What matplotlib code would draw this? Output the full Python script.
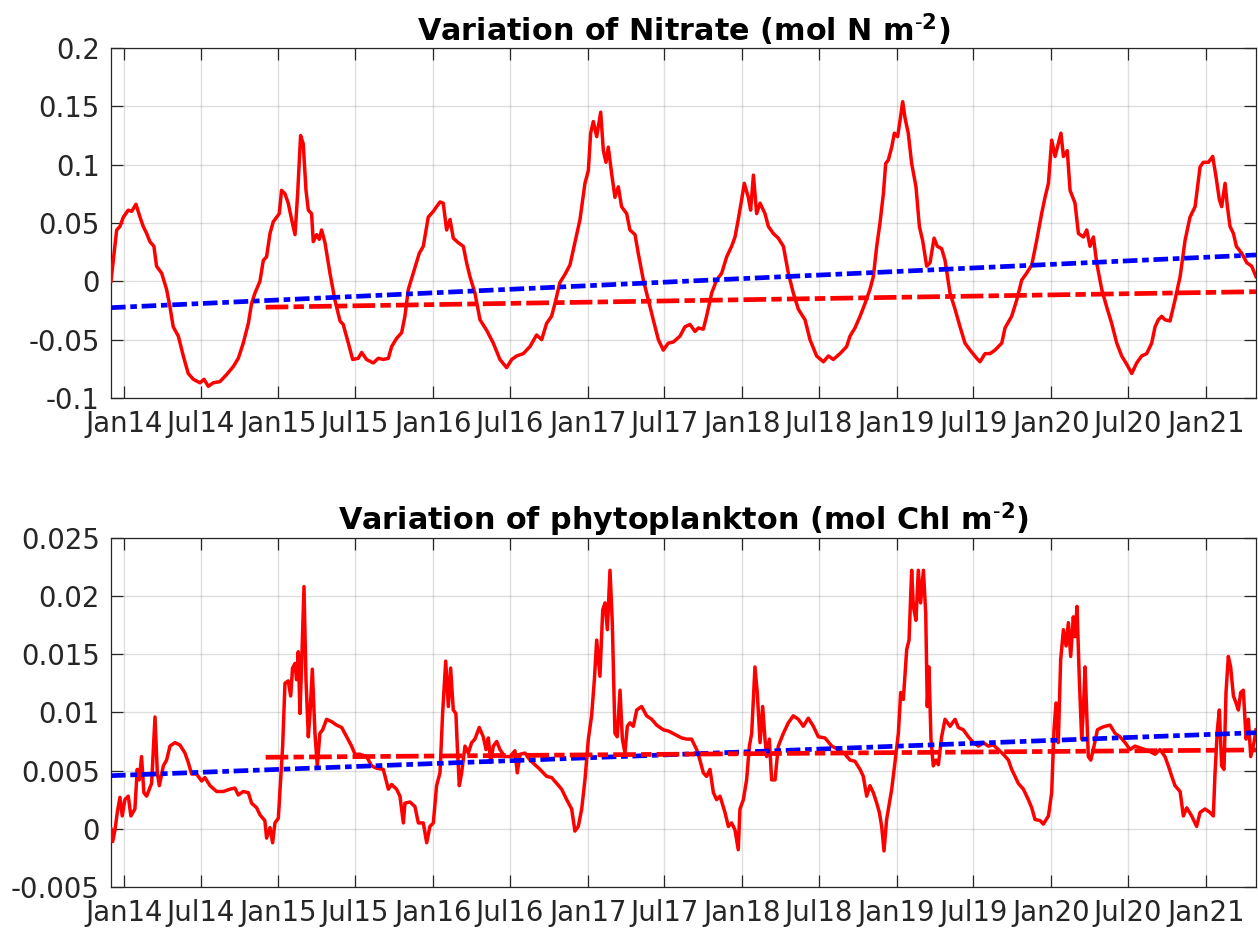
import numpy as np
import pandas as pd
import matplotlib
matplotlib.use('Agg')
import matplotlib.pyplot as plt
import matplotlib.dates as mdates
from matplotlib.ticker import FuncFormatter

# time axis in decimal years
nit_t = [2013.916, 2013.953, 2013.974, 2013.996, 2014.028, 2014.050, 2014.078, 2014.104, 2014.125, 2014.147,
         2014.168, 2014.194, 2014.211, 2014.244, 2014.276, 2014.298, 2014.319, 2014.352, 2014.384, 2014.416,
         2014.449, 2014.492, 2014.518, 2014.546, 2014.578, 2014.621, 2014.664, 2014.708, 2014.740, 2014.772,
         2014.805, 2014.826, 2014.848, 2014.880, 2014.902, 2014.923, 2014.945, 2014.966, 2014.988, 2015.005,
         2015.020, 2015.042, 2015.063, 2015.085, 2015.107, 2015.124, 2015.143, 2015.160, 2015.178, 2015.193,
         2015.214, 2015.225, 2015.247, 2015.264, 2015.279, 2015.301, 2015.333, 2015.365, 2015.398, 2015.419,
         2015.452, 2015.480, 2015.516, 2015.538, 2015.570, 2015.613, 2015.646, 2015.678, 2015.711, 2015.732,
         2015.764, 2015.797, 2015.818, 2015.840, 2015.872, 2015.911,
         2015.937, 2015.969, 2016.002, 2016.023, 2016.045, 2016.066, 2016.088, 2016.110, 2016.131, 2016.164,
         2016.196, 2016.217, 2016.239, 2016.271, 2016.304, 2016.347, 2016.390, 2016.433, 2016.476, 2016.509,
         2016.541, 2016.584, 2016.627, 2016.670, 2016.703, 2016.735, 2016.767, 2016.789, 2016.821, 2016.854,
         2016.886, 2016.918, 2016.951, 2016.983, 2017.005, 2017.020, 2017.037, 2017.059, 2017.085, 2017.102,
         2017.119, 2017.134, 2017.156, 2017.177, 2017.199, 2017.220, 2017.253, 2017.274, 2017.307, 2017.328,
         2017.361, 2017.393, 2017.425, 2017.458, 2017.490, 2017.522, 2017.555, 2017.598, 2017.630, 2017.663,
         2017.695, 2017.717, 2017.749, 2017.770, 2017.803, 2017.835, 2017.868, 2017.900, 2017.932, 2017.954,
         2017.975, 2017.997, 2018.014, 2018.040, 2018.055, 2018.073, 2018.094, 2018.116, 2018.148, 2018.170,
         2018.202, 2018.234, 2018.267, 2018.299, 2018.331, 2018.364, 2018.407, 2018.439, 2018.482, 2018.526,
         2018.558, 2018.590, 2018.633, 2018.676, 2018.698,
         2018.730, 2018.763, 2018.795, 2018.827, 2018.849, 2018.871, 2018.892, 2018.914, 2018.929, 2018.946,
         2018.968, 2018.985, 2019.006, 2019.022, 2019.039, 2019.054, 2019.075, 2019.097, 2019.125, 2019.147,
         2019.168, 2019.194, 2019.216, 2019.242, 2019.263, 2019.291, 2019.313, 2019.345, 2019.378, 2019.410,
         2019.442, 2019.475, 2019.518, 2019.539, 2019.572, 2019.604, 2019.636, 2019.680, 2019.701, 2019.744,
         2019.777, 2019.809, 2019.841, 2019.874, 2019.906, 2019.938, 2019.960, 2019.982, 2020.003, 2020.025,
         2020.046, 2020.063, 2020.079, 2020.104, 2020.122, 2020.154, 2020.176, 2020.208, 2020.230, 2020.251,
         2020.273, 2020.294, 2020.327, 2020.359, 2020.391, 2020.424, 2020.456, 2020.488, 2020.521, 2020.553,
         2020.585, 2020.618, 2020.650, 2020.672, 2020.693, 2020.715, 2020.736, 2020.769, 2020.801, 2020.834,
         2020.866, 2020.898, 2020.931, 2020.963, 2020.984, 2021.017, 2021.045, 2021.066, 2021.088, 2021.103,
         2021.125, 2021.140, 2021.157, 2021.179, 2021.198, 2021.233, 2021.265, 2021.297, 2021.325]
nit_v = [0.000, 0.044, 0.047, 0.055, 0.061, 0.060, 0.066, 0.055, 0.047, 0.041,
         0.034, 0.030, 0.013, 0.007, -0.007, -0.022, -0.039, -0.047, -0.064, -0.079,
         -0.084, -0.087, -0.084, -0.090, -0.087, -0.086, -0.080, -0.073, -0.066, -0.053,
         -0.036, -0.019, -0.010, 0.000, 0.018, 0.021, 0.041, 0.051, 0.055, 0.058,
         0.078, 0.075, 0.067, 0.053, 0.040, 0.075, 0.125, 0.118, 0.078, 0.061,
         0.058, 0.034, 0.040, 0.036, 0.044, 0.033, 0.007, -0.016, -0.034, -0.037,
         -0.053, -0.067, -0.066, -0.061, -0.067, -0.070, -0.066, -0.067, -0.066, -0.056,
         -0.049, -0.044, -0.030, -0.007, 0.007, 0.024,
         0.030, 0.055, 0.060, 0.064, 0.068, 0.067, 0.044, 0.053, 0.037, 0.033,
         0.030, 0.016, 0.004, -0.010, -0.033, -0.042, -0.053, -0.067, -0.074, -0.067,
         -0.064, -0.062, -0.056, -0.046, -0.050, -0.036, -0.030, -0.019, -0.001, 0.006,
         0.014, 0.033, 0.053, 0.084, 0.095, 0.127, 0.137, 0.124, 0.145, 0.112,
         0.102, 0.115, 0.092, 0.072, 0.081, 0.064, 0.058, 0.044, 0.040, 0.024,
         0.001, -0.016, -0.033, -0.050, -0.059, -0.053, -0.052, -0.047, -0.039, -0.037,
         -0.043, -0.040, -0.041, -0.030, -0.010, 0.001, 0.007, 0.021, 0.030, 0.038,
         0.053, 0.070, 0.084, 0.072, 0.061, 0.091, 0.058, 0.067, 0.058, 0.047,
         0.041, 0.037, 0.030, 0.007, -0.010, -0.024, -0.033, -0.050, -0.064, -0.069,
         -0.064, -0.067, -0.062, -0.056, -0.047,
         -0.040, -0.030, -0.019, -0.007, 0.004, 0.030, 0.050, 0.075, 0.101, 0.104,
         0.115, 0.127, 0.124, 0.138, 0.154, 0.140, 0.127, 0.101, 0.081, 0.047,
         0.035, 0.013, 0.016, 0.037, 0.030, 0.028, 0.018, -0.010, -0.024, -0.039,
         -0.053, -0.059, -0.066, -0.069, -0.062, -0.062, -0.059, -0.053, -0.040, -0.030,
         -0.016, 0.001, 0.007, 0.014, 0.035, 0.058, 0.072, 0.084, 0.121, 0.107,
         0.118, 0.127, 0.107, 0.112, 0.078, 0.067, 0.041, 0.038, 0.044, 0.030,
         0.038, 0.016, -0.007, -0.022, -0.036, -0.053, -0.064, -0.071, -0.079, -0.070,
         -0.064, -0.062, -0.053, -0.039, -0.033, -0.030, -0.033, -0.034, -0.016, 0.004,
         0.035, 0.055, 0.064, 0.098, 0.102, 0.102, 0.107, 0.090, 0.070, 0.064,
         0.084, 0.064, 0.047, 0.041, 0.030, 0.024, 0.016, 0.013, 0.004]

phy_t = [2013.916, 2013.927, 2013.942, 2013.957, 2013.974, 2013.989, 2014.006, 2014.028, 2014.045, 2014.071,
         2014.086, 2014.099, 2014.114, 2014.129, 2014.147, 2014.179, 2014.201, 2014.216, 2014.229, 2014.255,
         2014.276, 2014.298, 2014.330, 2014.362, 2014.395, 2014.416, 2014.438, 2014.470, 2014.503, 2014.524,
         2014.557, 2014.600, 2014.643, 2014.686, 2014.718, 2014.740, 2014.772, 2014.805, 2014.826, 2014.859,
         2014.880, 2014.912, 2014.923, 2014.945, 2014.962, 2014.977, 2014.999, 2015.014, 2015.027, 2015.042,
         2015.063, 2015.079, 2015.091, 2015.107, 2015.117, 2015.128, 2015.139, 2015.150, 2015.165, 2015.178,
         2015.193, 2015.204, 2015.219, 2015.236, 2015.251, 2015.268, 2015.286, 2015.311, 2015.344, 2015.376,
         2015.409, 2015.441, 2015.473, 2015.495, 2015.527, 2015.570, 2015.603, 2015.635, 2015.678, 2015.711,
         2015.732, 2015.764, 2015.786, 2015.808, 2015.818, 2015.851, 2015.883, 2015.905,
         2015.937, 2015.959, 2015.980, 2016.002, 2016.023, 2016.045, 2016.062, 2016.082, 2016.099, 2016.114,
         2016.131, 2016.148, 2016.157, 2016.170, 2016.185, 2016.207, 2016.228, 2016.250, 2016.271, 2016.299,
         2016.325, 2016.343, 2016.358, 2016.373, 2016.390, 2016.412, 2016.433, 2016.465, 2016.498, 2016.530,
         2016.545, 2016.563, 2016.595, 2016.627, 2016.660, 2016.692, 2016.735, 2016.767, 2016.800, 2016.832,
         2016.865, 2016.897, 2016.918, 2016.940, 2016.962, 2016.983, 2017.005, 2017.026, 2017.044, 2017.059,
         2017.080, 2017.098, 2017.113, 2017.128, 2017.145, 2017.160, 2017.177, 2017.192, 2017.210, 2017.225,
         2017.242, 2017.257, 2017.274, 2017.296, 2017.318, 2017.350, 2017.382, 2017.415, 2017.447, 2017.490,
         2017.522, 2017.565, 2017.609, 2017.641, 2017.673, 2017.706, 2017.727, 2017.749, 2017.770, 2017.792,
         2017.814, 2017.835, 2017.857, 2017.889, 2017.911, 2017.932, 2017.954, 2017.975, 2017.986, 2018.008,
         2018.029, 2018.047, 2018.062, 2018.083, 2018.098, 2018.116, 2018.133, 2018.148, 2018.159, 2018.176,
         2018.191, 2018.213, 2018.234, 2018.267, 2018.299, 2018.331, 2018.364, 2018.396, 2018.428, 2018.461,
         2018.493, 2018.536, 2018.580, 2018.623, 2018.666, 2018.698,
         2018.730, 2018.763, 2018.784, 2018.806, 2018.827, 2018.849, 2018.871, 2018.888, 2018.903, 2018.918,
         2018.935, 2018.953, 2018.968, 2018.989, 2019.011, 2019.026, 2019.043, 2019.065, 2019.080, 2019.097,
         2019.108, 2019.125, 2019.140, 2019.155, 2019.173, 2019.188, 2019.198, 2019.209, 2019.222, 2019.237,
         2019.255, 2019.270, 2019.291, 2019.313, 2019.345, 2019.378, 2019.399, 2019.431, 2019.464, 2019.496,
         2019.529, 2019.561, 2019.593, 2019.626, 2019.658, 2019.690, 2019.723, 2019.744, 2019.766, 2019.787,
         2019.820, 2019.852, 2019.874, 2019.895, 2019.928, 2019.949, 2019.982, 2020.003, 2020.018, 2020.031,
         2020.046, 2020.061, 2020.079, 2020.096, 2020.111, 2020.126, 2020.143, 2020.154, 2020.167, 2020.182,
         2020.197, 2020.208, 2020.219, 2020.230, 2020.240, 2020.256, 2020.277, 2020.299, 2020.327, 2020.348,
         2020.381, 2020.413, 2020.445, 2020.478, 2020.510, 2020.542, 2020.585, 2020.629, 2020.672, 2020.704,
         2020.736, 2020.758, 2020.780, 2020.801, 2020.834, 2020.855, 2020.877, 2020.909, 2020.941, 2020.963,
         2020.995, 2021.028, 2021.049, 2021.060, 2021.075, 2021.088, 2021.103, 2021.118, 2021.131, 2021.146,
         2021.161, 2021.179, 2021.196, 2021.211, 2021.226, 2021.243, 2021.261, 2021.276, 2021.291, 2021.312,
         2021.325]
phy_v = [0.0000, -0.0011, -0.0001, 0.0014, 0.0027, 0.0011, 0.0025, 0.0028, 0.0011, 0.0017,
         0.0051, 0.0042, 0.0062, 0.0031, 0.0028, 0.0039, 0.0096, 0.0048, 0.0037, 0.0054,
         0.0059, 0.0071, 0.0074, 0.0072, 0.0065, 0.0057, 0.0047, 0.0047, 0.0041, 0.0044,
         0.0037, 0.0032, 0.0032, 0.0034, 0.0035, 0.0029, 0.0032, 0.0031, 0.0022, 0.0018,
         0.0012, 0.0007, -0.0008, 0.0001, -0.0012, 0.0005, 0.0009, 0.0042, 0.0071, 0.0125,
         0.0127, 0.0114, 0.0138, 0.0142, 0.0128, 0.0152, 0.0099, 0.0142, 0.0208, 0.0128,
         0.0079, 0.0099, 0.0137, 0.0082, 0.0054, 0.0082, 0.0085, 0.0094, 0.0092, 0.0089,
         0.0087, 0.0079, 0.0071, 0.0064, 0.0064, 0.0062, 0.0054, 0.0052, 0.0051, 0.0034,
         0.0038, 0.0034, 0.0028, 0.0005, 0.0022, 0.0023, 0.0019, 0.0005,
         0.0005, -0.0012, 0.0002, 0.0005, 0.0037, 0.0048, 0.0099, 0.0144, 0.0105, 0.0138,
         0.0102, 0.0099, 0.0071, 0.0037, 0.0048, 0.0071, 0.0065, 0.0074, 0.0077, 0.0087,
         0.0079, 0.0068, 0.0078, 0.0057, 0.0071, 0.0075, 0.0068, 0.0062, 0.0062, 0.0067,
         0.0048, 0.0064, 0.0065, 0.0059, 0.0055, 0.0051, 0.0045, 0.0044, 0.0039, 0.0034,
         0.0025, 0.0017, -0.0002, 0.0002, 0.0017, 0.0042, 0.0077, 0.0097, 0.0128, 0.0162,
         0.0131, 0.0188, 0.0194, 0.0171, 0.0222, 0.0177, 0.0082, 0.0079, 0.0119, 0.0077,
         0.0065, 0.0088, 0.0091, 0.0088, 0.0102, 0.0105, 0.0097, 0.0094, 0.0089, 0.0085,
         0.0084, 0.0081, 0.0078, 0.0077, 0.0077, 0.0068, 0.0059, 0.0048, 0.0045, 0.0051,
         0.0031, 0.0025, 0.0028, 0.0014, 0.0002, 0.0005, -0.0001, -0.0018, 0.0017, 0.0025,
         0.0042, 0.0071, 0.0082, 0.0139, 0.0117, 0.0074, 0.0105, 0.0077, 0.0062, 0.0077,
         0.0042, 0.0042, 0.0071, 0.0082, 0.0091, 0.0097, 0.0094, 0.0088, 0.0095, 0.0088,
         0.0079, 0.0078, 0.0071, 0.0068, 0.0064, 0.0059,
         0.0058, 0.0051, 0.0045, 0.0028, 0.0037, 0.0031, 0.0022, 0.0014, 0.0002, -0.0019,
         0.0008, 0.0022, 0.0034, 0.0057, 0.0082, 0.0117, 0.0111, 0.0154, 0.0162, 0.0222,
         0.0191, 0.0179, 0.0222, 0.0194, 0.0222, 0.0185, 0.0105, 0.0139, 0.0077, 0.0054,
         0.0059, 0.0055, 0.0079, 0.0094, 0.0088, 0.0094, 0.0087, 0.0085, 0.0079, 0.0074,
         0.0071, 0.0074, 0.0071, 0.0072, 0.0068, 0.0064, 0.0059, 0.0051, 0.0045, 0.0039,
         0.0034, 0.0025, 0.0018, 0.0008, 0.0007, 0.0004, 0.0011, 0.0031, 0.0085, 0.0108,
         0.0074, 0.0145, 0.0171, 0.0157, 0.0177, 0.0148, 0.0182, 0.0165, 0.0191, 0.0128,
         0.0077, 0.0102, 0.0139, 0.0099, 0.0062, 0.0059, 0.0071, 0.0085, 0.0087, 0.0088,
         0.0089, 0.0082, 0.0079, 0.0074, 0.0068, 0.0071, 0.0069, 0.0067, 0.0064, 0.0068,
         0.0062, 0.0054, 0.0045, 0.0037, 0.0032, 0.0011, 0.0018, 0.0011, 0.0002, 0.0014,
         0.0017, 0.0014, 0.0011, 0.0048, 0.0085, 0.0102, 0.0054, 0.0051, 0.0117, 0.0148,
         0.0139, 0.0114, 0.0108, 0.0102, 0.0117, 0.0119, 0.0077, 0.0094, 0.0062, 0.0074,
         0.0085]

# linear trends (whole period, blue) and from Dec 2014 (red): [start, end]
nit_trend_all_t = [2013.916, 2021.325]
nit_trend_all_v = [-0.0226, 0.0226]
nit_trend_late_t = [2014.917, 2021.325]
nit_trend_late_v = [-0.0222, -0.0089]
phy_trend_all_t = [2013.916, 2021.325]
phy_trend_all_v = [0.00456, 0.00825]
phy_trend_late_t = [2014.917, 2021.325]
phy_trend_late_v = [0.00614, 0.00677]

nit_yticks = [-0.1, -0.05, 0, 0.05, 0.1, 0.15, 0.2]
phy_yticks = [-0.005, 0, 0.005, 0.01, 0.015, 0.02, 0.025]
xrange_yr = [2013.916, 2021.325]


def yr2date(y):
    return pd.Timestamp('2014-01-01') + pd.to_timedelta((np.asarray(y, dtype=float) - 2014) * 365.25, unit='D')


plt.rcParams['font.family'] = 'DejaVu Sans'
plt.rcParams['axes.unicode_minus'] = False
dark = '#262626'

fig = plt.figure(figsize=(12.58, 9.32), dpi=100)
ax1 = fig.add_axes([0.0882, 0.573, 0.9102, 0.3755])
ax2 = fig.add_axes([0.0882, 0.0483, 0.9102, 0.3748])

sup = '$^{\\text{-}\\mathbf{2}}$'
panels = [
    (ax1, nit_t, nit_v, nit_trend_all_t, nit_trend_all_v, nit_trend_late_t, nit_trend_late_v,
     nit_yticks, 'Variation of Nitrate (mol N m' + sup + ')'),
    (ax2, phy_t, phy_v, phy_trend_all_t, phy_trend_all_v, phy_trend_late_t, phy_trend_late_v,
     phy_yticks, 'Variation of phytoplankton (mol Chl m' + sup + ')'),
]

for ax, t, v, ta, va, tl, vl, yt, title in panels:
    ax.plot(yr2date(t), v, color='#ff0000', lw=2.5, zorder=3)
    ax.plot(yr2date(ta), va, color='#0000ff', lw=3.4, dashes=(3.1, 1.0, 1.4, 1.0),
            dash_capstyle='butt', zorder=4)
    ax.plot(yr2date(tl), vl, color='#ff0000', lw=3.4, dashes=(4.8, 1.1, 2.2, 1.1),
            dash_capstyle='butt', zorder=4)

    ax.set_xlim(yr2date(xrange_yr[0]), yr2date(xrange_yr[1]))
    ax.set_ylim(yt[0], yt[-1])
    ax.set_yticks(yt)
    ax.yaxis.set_major_formatter(FuncFormatter(lambda x, p: '%g' % round(x, 6)))
    ax.xaxis.set_major_locator(mdates.MonthLocator(bymonth=[1, 7]))
    ax.xaxis.set_major_formatter(mdates.DateFormatter('%b%y'))

    ax.grid(True, color=dark, alpha=0.15, lw=1.0)
    ax.set_axisbelow(True)
    for s in ax.spines.values():
        s.set_color(dark)
        s.set_linewidth(0.9)
    ax.tick_params(axis='both', direction='in', length=8.3, width=0.9, color=dark,
                   labelcolor=dark, labelsize=19.8, top=True, right=True)
    ax.tick_params(axis='x', pad=9)
    ax.tick_params(axis='y', pad=8)
    ax.set_title(title, fontsize=21.8, fontweight='bold', pad=5)

fig.savefig('out.png', dpi=100)
